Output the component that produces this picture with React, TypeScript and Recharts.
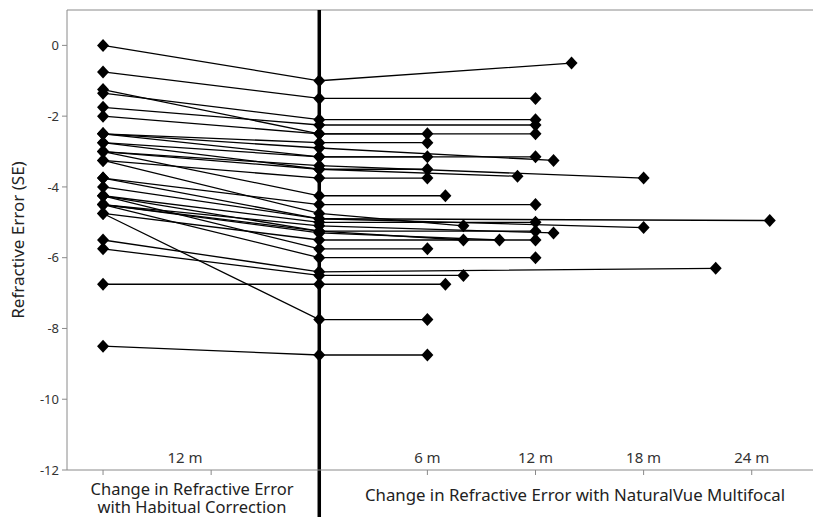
import React from "react";
import { ScatterChart, Scatter, XAxis, YAxis, ReferenceLine } from "recharts";

// one entry per eye: SE at -12 m (habitual), at 0 (NaturalVue fit), months of follow-up, final SE
const baselineSE = [0, -0.75, -1.35, -1.75, -1.25, -2.0, -2.5, -2.5, -2.75, -2.5, -3.0, -2.75, -3.0, -3.25, -3.0, -3.75, -3.25, -4.0, -3.75, -4.25, -4.5, -4.25, -4.5, -4.5, -4.75, -4.25, -4.5, -5.5, -5.75, -6.75, -4.75, -8.5];
const startSE = [-1.0, -1.5, -2.1, -2.25, -2.5, -2.5, -2.75, -2.9, -3.15, -3.15, -3.4, -3.5, -3.5, -3.75, -4.25, -4.5, -4.75, -4.9, -4.9, -5.0, -5.1, -5.25, -5.25, -5.3, -5.5, -5.75, -6.0, -6.4, -6.5, -6.75, -7.75, -8.75];
const followUpMonths = [14, 12, 12, 12, 12, 6, 6, 13, 6, 12, 18, 6, 11, 6, 7, 12, 8, 25, 18, 12, 13, 12, 8, 10, 12, 6, 12, 22, 8, 7, 6, 6];
const finalSE = [-0.5, -1.5, -2.1, -2.25, -2.5, -2.5, -2.75, -3.25, -3.15, -3.15, -3.75, -3.5, -3.7, -3.75, -4.25, -4.5, -5.1, -4.95, -5.15, -5.0, -5.3, -5.25, -5.5, -5.5, -5.5, -5.75, -6.0, -6.3, -6.5, -6.75, -7.75, -8.75];

const habitualMonths = -12;
const xTicks = [-12, -6, 6, 12, 18, 24];
const yTicks = [-12, -10, -8, -6, -4, -2, 0];

const W = 813;
const H = 517;
const font = "'Noto Sans', 'Open Sans', sans-serif";
const axisGrey = "#8a8a8a";

const patients = baselineSE.map((b, i) => [
  { x: habitualMonths, y: b },
  { x: 0, y: startSE[i] },
  { x: followUpMonths[i], y: finalSE[i] }
]);

function Diamond(props: any) {
  const { cx, cy } = props;
  if (cx == null || cy == null) return null;
  return <path d={`M${cx},${cy - 6.5}L${cx + 6},${cy}L${cx},${cy + 6.5}L${cx - 6},${cy}Z`} fill="#000" />;
}

function MonthTick(props: any) {
  const { x, y, payload } = props;
  const v = payload.value;
  if (v === -6) return null;
  // the habitual label sits between the -12 and -6 ticks
  const lx = v === -12 ? x + 82 : x;
  return (
    <text x={lx} y={y - 12} textAnchor="middle" fontSize={15} fill="#333" fontFamily={font}>
      {`${Math.abs(v)} m`}
    </text>
  );
}

function Divider(props: any) {
  const { x1, y1, y2 } = props;
  return <line x1={x1} x2={x1} y1={Math.min(y1, y2)} y2={H} stroke="#000" strokeWidth={3.5} />;
}

const captionStyle: React.CSSProperties = {
  position: "absolute",
  textAlign: "center",
  fontSize: 16.5,
  lineHeight: "18px",
  height: 18,
  color: "#222",
  whiteSpace: "nowrap"
};

export default function App() {
  return (
    <div style={{ position: "relative", width: W, height: H, background: "#fff", fontFamily: font, overflow: "hidden" }}>
      <style>{"body{margin:0}"}</style>
      <ScatterChart width={W} height={H} margin={{ top: 10, right: 0, bottom: 0, left: 0 }}>
        <XAxis
          type="number"
          dataKey="x"
          domain={[-14, 27.4]}
          ticks={xTicks}
          tick={MonthTick}
          tickSize={5}
          tickMargin={0}
          height={47}
          stroke={axisGrey}
          allowDataOverflow
        />
        <YAxis
          type="number"
          dataKey="y"
          domain={[-12, 1]}
          ticks={yTicks}
          width={67}
          tickSize={5}
          tickMargin={3}
          stroke={axisGrey}
          tick={{ fill: "#333", fontSize: 13, fontFamily: font }}
          label={{
            value: "Refractive Error (SE)",
            angle: -90,
            position: "insideLeft",
            offset: 18,
            style: { textAnchor: "middle", fontSize: 17, fill: "#222", fontFamily: font }
          }}
        />
        <ReferenceLine y={1} stroke={axisGrey} />
        {patients.map((pts, i) => (
          <Scatter
            key={i}
            data={pts}
            fill="#000"
            line={{ stroke: "#000", strokeWidth: 1.3 }}
            shape={(p: any) => <Diamond {...p} />}
            isAnimationActive={false}
          />
        ))}
        <ReferenceLine x={0} shape={(p: any) => <Divider {...p} />} />
      </ScatterChart>
      <div style={{ ...captionStyle, left: 72, top: 480, width: 240 }}>Change in Refractive Error</div>
      <div style={{ ...captionStyle, left: 72, top: 498, width: 240 }}>with Habitual Correction</div>
      <div style={{ ...captionStyle, left: 330, top: 486, width: 490, fontSize: 16.8 }}>
        Change in Refractive Error with NaturalVue Multifocal
      </div>
    </div>
  );
}
